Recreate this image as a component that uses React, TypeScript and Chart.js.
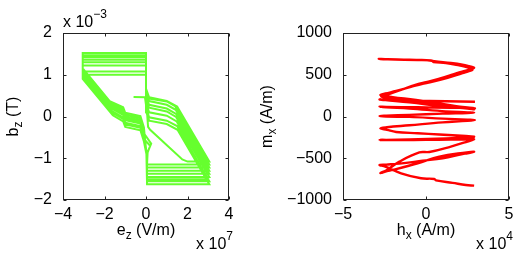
import React, { useEffect, useRef } from 'react';
import { Chart, registerables } from 'chart.js';

Chart.register(...registerables);

const FONT = '"Liberation Sans", Arial, Helvetica, sans-serif';

// ---- tick values ----
const EZ_TICKS = [-4, -2, 0, 2, 4];          // x 10^7 V/m
const BZ_TICKS = [-2, -1, 0, 1, 2];          // x 10^-3 T
const HX_TICKS = [-5, 0, 5];                 // x 10^4 A/m
const MX_TICKS = [-1000, -500, 0, 500, 1000];

// ---- left panel: (e_z [1e7 V/m], b_z [1e-3 T]) trace ----
const EZ_BZ: [number, number][] = [
  [-0.6, 0.47], [-0.05, 0.46], [0.05, 0.1], [0.1, -0.25], [0.2, -0.32], [1.75, -1.03], [2.0, -1.08], [3.05, -1.08],
  [1.5, 0.24], [1.0, 0.37], [0.15, 0.46], [0.02, 0.64],
  [0, 1.52], [-3.05, 1.52], [-3.05, 1.15], [-1.75, 0.37], [-1.1, 0.22], [-1.0, 0.09], [-0.27, 0.01], [-0.1, -0.26], [0.02, -0.9], [0.05, -1.3], [3.05, -1.3],
  [1.45, 0.06], [1.0, 0.19], [0.15, 0.28], [0.02, 0.46],
  [0, 1.36], [-3.05, 1.36], [-3.05, 1.05], [-1.68, 0.23], [-1.1, 0.08], [-1.0, -0.05], [-0.27, -0.13], [-0.1, -0.4], [0.25, -0.65], [0.08, -0.85], [0.05, -1.15], [3.05, -1.15],
  [1.4, 0.25], [1.0, 0.36], [0.15, 0.43], [0.02, 0.6],
  [0, 1.47], [-3.05, 1.47], [-3.05, 1.12], [-1.72, 0.32], [-1.1, 0.17], [-1.0, 0.04], [-0.27, -0.04], [-0.1, -0.31], [0.03, -0.9], [0.05, -1.45], [3.05, -1.45],
  [1.48, -0.12], [1.0, 0.02], [0.15, 0.1], [0.02, 0.3],
  [0, 1.22], [-3.05, 1.22], [-3.05, 0.98], [-1.64, 0.13], [-1.1, -0.02], [-1.0, -0.15], [-0.27, -0.23], [-0.1, -0.5], [0.02, -0.9], [0.05, -1.22], [3.05, -1.22],
  [1.43, 0.16], [1.0, 0.28], [0.15, 0.37], [0.02, 0.55],
  [0, 1.42], [-3.05, 1.42], [-3.05, 1.08], [-1.7, 0.27], [-1.1, 0.12], [-1.0, -0.01], [-0.27, -0.09], [-0.1, -0.36], [0.02, -0.9], [0.05, -1.55], [3.05, -1.55],
  [1.5, -0.23], [1.0, -0.1], [0.15, -0.02], [0.02, 0.2],
  [0, 1.08], [-3.05, 1.08], [-3.05, 0.95], [-1.62, 0.09], [-1.1, -0.06], [-1.0, -0.19], [-0.27, -0.27], [-0.1, -0.54], [0.2, -0.7], [0.05, -0.9], [0.05, -1.37], [3.05, -1.37],
  [1.45, -0.01], [1.0, 0.12], [0.15, 0.21], [0.02, 0.4],
  [0, 1.3], [-3.05, 1.3], [-3.05, 1.02], [-1.66, 0.19], [-1.1, 0.04], [-1.0, -0.09], [-0.27, -0.17], [-0.1, -0.44], [0.02, -0.9], [0.05, -1.62], [3.05, -1.62],
  [1.52, -0.32], [1.0, -0.18], [0.15, -0.1], [0.02, 0.1],
  [0, 1.0], [-3.05, 1.0], [-3.05, 0.9], [-1.6, 0.03], [-1.1, -0.12], [-1.0, -0.25], [-0.27, -0.33], [-0.1, -0.6], [0.02, -0.9], [0.05, -1.5], [3.05, -1.5],
];

// ---- right panel: (h_x [1e4 A/m], m_x [A/m]) trace ----
const HX_MX: [number, number][] = [
  [2.95, 177], [1.2, 182], [-0.8, 192], [-2.3, 200],
  [-2.8, 204],
  [-2.45, 196], [-1.0, 170], [1.0, 120], [2.5, 96],
  [2.9, 86],
  [2.5, 102], [0.0, 180], [-2.0, 232], [-2.45, 243],
  [-2.75, 257],
  [-2.45, 275], [-1.8, 305], [-0.9, 355], [-0.2, 392], [0.1, 402], [1.3, 462], [2.2, 520], [2.55, 540],
  [2.8, 560],
  [2.5, 590], [2.0, 612], [1.2, 640], [0.45, 652], [0.35, 668], [-1.0, 680], [-2.3, 686],
  [-2.85, 690],
  [-2.3, 684], [-0.5, 677], [0.3, 672], [0.5, 662], [1.5, 642], [2.2, 622], [2.6, 603],
  [2.9, 585],
  [2.6, 560], [2.0, 528], [1.4, 490], [0.2, 420], [-0.4, 392], [-1.5, 320], [-2.35, 258],
  [-2.7, 240],
  [-2.35, 222], [-1.2, 200], [1.0, 145], [2.5, 108],
  [2.95, 100],
  [2.5, 103], [1.5, 104], [-0.5, 110], [-2.4, 115],
  [-2.8, 117],
  [-2.4, 110], [-1.0, 95], [1.2, 62], [2.5, 50],
  [2.9, 46],
  [2.5, 42], [1.0, 35], [-1.0, 20], [-2.4, 10],
  [-2.8, 6],
  [-2.4, 0], [-1.0, -5], [1.0, -25], [2.5, -37],
  [2.95, -42],
  [2.5, -52], [1.0, -70], [-1.0, -105], [-2.35, -128],
  [-2.75, -141],
  [-2.35, -160], [-1.8, -185], [-0.5, -200], [0.8, -215], [2.4, -234],
  [2.9, -242],
  [2.5, -252], [1.2, -262], [-1.0, -275], [-2.4, -280],
  [-2.8, -281],
  [-2.4, -283], [-1.5, -283], [0.0, -280], [1.5, -276], [2.5, -274],
  [2.9, -273],
  [2.5, -300], [1.5, -360], [0.2, -425], [-0.4, -430], [-1.6, -540], [-2.35, -640],
  [-2.75, -677],
  [-2.35, -655], [-2.0, -640], [-0.5, -560], [0.8, -480], [2.45, -430],
  [2.9, -421],
  [2.5, -440], [2.2, -450], [1.0, -500], [-0.2, -530], [-1.6, -565], [-2.4, -576],
  [-2.8, -581],
  [-2.45, -600], [-1.5, -680], [-0.3, -740], [0.5, -748], [0.6, -765], [1.6, -795], [2.4, -820],
  [2.9, -828],
];

type Seg = { t: string; size: number; dy: number };

function drawSegs(ctx: CanvasRenderingContext2D, segs: Seg[], x: number, y: number, align: 'left' | 'center' | 'right') {
  let w = 0;
  for (const s of segs) {
    ctx.font = `${s.size}px ${FONT}`;
    w += ctx.measureText(s.t).width;
  }
  let cx = align === 'left' ? x : align === 'center' ? x - w / 2 : x - w;
  ctx.textAlign = 'left';
  ctx.textBaseline = 'alphabetic';
  for (const s of segs) {
    ctx.font = `${s.size}px ${FONT}`;
    ctx.fillText(s.t, cx, y + s.dy);
    cx += ctx.measureText(s.t).width;
  }
}

const matlabAxes = {
  id: 'matlabAxes',
  afterDraw(chart: any, _args: any, opts: any) {
    const { ctx, chartArea } = chart;
    const { left, right, top, bottom } = chartArea;
    const xs = chart.scales.x;
    const ys = chart.scales.y;
    ctx.save();
    ctx.strokeStyle = '#222';
    ctx.lineWidth = 1;
    const L = Math.round(left) + 0.5;
    const R = Math.round(right) - 0.5;
    const T = Math.round(top) + 0.5;
    const B = Math.round(bottom) - 0.5;
    ctx.strokeRect(L, T, R - L, B - T);
    const tl = 3;
    ctx.beginPath();
    for (const t of xs.ticks) {
      const px = Math.round(xs.getPixelForValue(t.value)) + 0.5;
      ctx.moveTo(px, B); ctx.lineTo(px, B - tl);
      ctx.moveTo(px, T); ctx.lineTo(px, T + tl);
    }
    for (const t of ys.ticks) {
      const py = Math.round(ys.getPixelForValue(t.value)) + 0.5;
      ctx.moveTo(L, py); ctx.lineTo(L + tl, py);
      ctx.moveTo(R, py); ctx.lineTo(R - tl, py);
    }
    ctx.stroke();

    ctx.fillStyle = '#000';
    const cxm = (left + right) / 2;
    const cym = (top + bottom) / 2;
    drawSegs(ctx, opts.xLabel, cxm, bottom + 35, 'center');
    ctx.save();
    ctx.translate(left - opts.yLabelOffset, cym);
    ctx.rotate(-Math.PI / 2);
    drawSegs(ctx, opts.yLabel, 0, 0, 'center');
    ctx.restore();
    if (opts.yExp) drawSegs(ctx, opts.yExp, left, top - 6, 'left');
    if (opts.xExp) drawSegs(ctx, opts.xExp, right + 4, bottom + 49, 'right');
    ctx.restore();
  },
};

const fmt = (v: any) => String(v).replace('-', '\u2212');

function makeScale(min: number, max: number, ticks: number[], isX: boolean, size: number) {
  return {
    type: 'linear',
    min,
    max,
    grid: { display: false },
    border: { display: false },
    ticks: { padding: isX ? -3 : 3, font: { size: 16, family: FONT }, color: '#000', callback: fmt, maxRotation: 0, autoSkip: false },
    afterBuildTicks: (s: any) => { s.ticks = ticks.map((value) => ({ value })); },
    afterFit: (s: any) => {
      if (isX) { s.height = size; s.paddingLeft = 0; s.paddingRight = 0; }
      else { s.width = size; s.paddingTop = 0; s.paddingBottom = 0; }
    },
  };
}

const sub = (a: string, b: string, c: string): Seg[] => [
  { t: a, size: 16, dy: 0 },
  { t: b, size: 12, dy: 4 },
  { t: c, size: 16, dy: 0 },
];
const exp = (p: string): Seg[] => [
  { t: 'x 10', size: 16, dy: 0 },
  { t: p, size: 12, dy: -9 },
];

function Panel(props: { left: number; cfg: () => any }) {
  const ref = useRef<HTMLCanvasElement>(null);
  useEffect(() => {
    const chart = new Chart(ref.current as HTMLCanvasElement, props.cfg());
    return () => chart.destroy();
  }, []);
  return (
    <canvas
      ref={ref}
      width={260}
      height={257}
      style={{ position: 'absolute', left: props.left, top: 0, width: 260, height: 257 }}
    />
  );
}

const leftCfg = () => ({
  type: 'line',
  data: {
    datasets: [{
      data: EZ_BZ.map(([x, y]) => ({ x, y })),
      borderColor: '#66ff2e',
      borderWidth: 2,
      pointRadius: 0,
      tension: 0,
      fill: false,
    }],
  },
  options: {
    responsive: false,
    animation: false,
    devicePixelRatio: 1,
    layout: { padding: { left: 13, top: 33, right: 31, bottom: 17 } },
    plugins: {
      legend: { display: false },
      tooltip: { enabled: false },
      matlabAxes: {
        xLabel: sub('e', 'z', ' (V/m)'),
        yLabel: sub('b', 'z', ' (T)'),
        yLabelOffset: 45,
        yExp: exp('\u22123'),
        xExp: exp('7'),
      },
    },
    scales: {
      x: makeScale(-4, 4, EZ_TICKS, true, 40),
      y: makeScale(-2, 2, BZ_TICKS, false, 50),
    },
  },
  plugins: [matlabAxes],
});

const rightCfg = () => ({
  type: 'line',
  data: {
    datasets: [{
      data: HX_MX.map(([x, y]) => ({ x, y })),
      borderColor: '#ff0000',
      borderWidth: 2.4,
      pointRadius: 0,
      tension: 0.4,
      fill: false,
      borderJoinStyle: 'round',
    }],
  },
  options: {
    responsive: false,
    animation: false,
    devicePixelRatio: 1,
    layout: { padding: { left: 13, top: 33, right: 11, bottom: 17 } },
    plugins: {
      legend: { display: false },
      tooltip: { enabled: false },
      matlabAxes: {
        xLabel: sub('h', 'x', ' (A/m)'),
        yLabel: sub('m', 'x', ' (A/m)'),
        yLabelOffset: 71,
        xExp: exp('4'),
      },
    },
    scales: {
      x: makeScale(-5, 5, HX_TICKS, true, 40),
      y: makeScale(-1000, 1000, MX_TICKS, false, 70),
    },
  },
  plugins: [matlabAxes],
});

export default function App() {
  return (
    <div style={{ position: 'absolute', left: 0, top: 0, width: 520, height: 257, background: '#fff' }}>
      <Panel left={0} cfg={leftCfg} />
      <Panel left={260} cfg={rightCfg} />
    </div>
  );
}
